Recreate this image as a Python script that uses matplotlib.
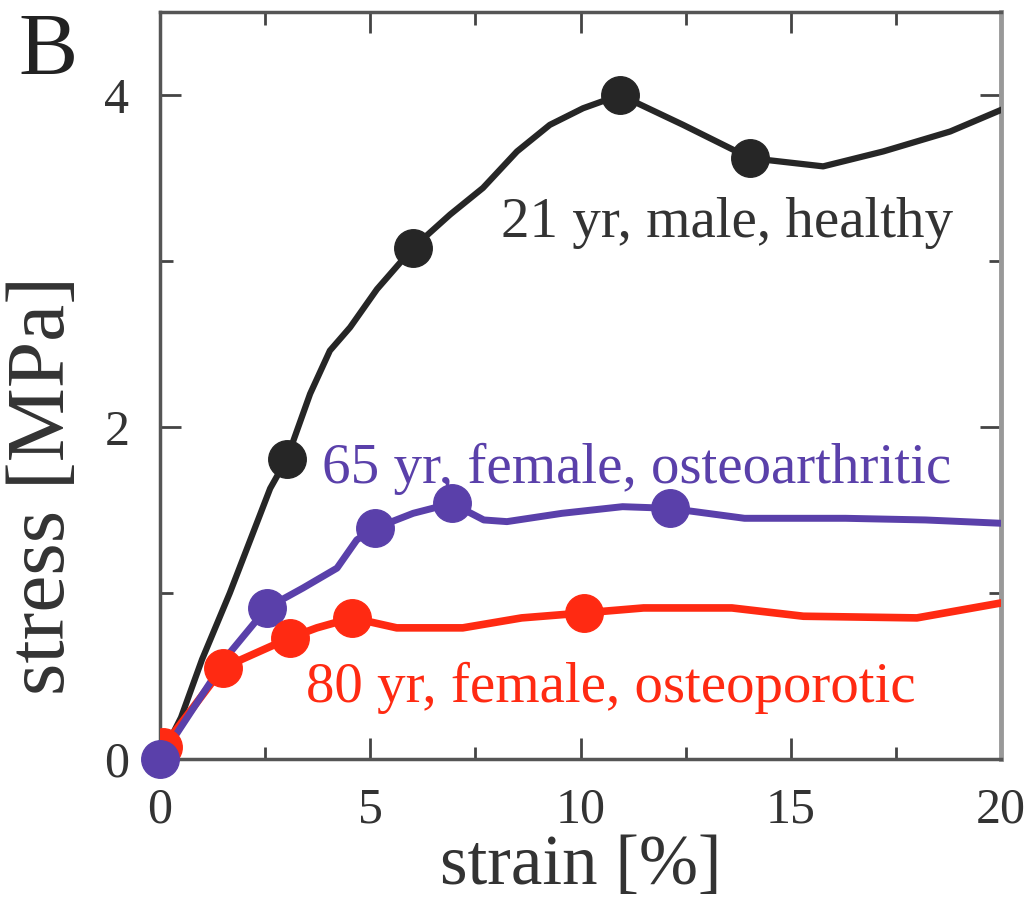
import matplotlib
matplotlib.use('Agg')
import matplotlib.pyplot as plt
from matplotlib.ticker import MultipleLocator

plt.rcParams['font.family'] = ['Liberation Serif', 'DejaVu Serif']

# 21 yr, male, healthy
x_healthy = [0, 0.5, 1.0, 1.66, 2.62, 3.02, 3.57, 4.04, 4.52, 5.16, 6.02,
             6.90, 7.68, 8.49, 9.27, 10.06, 10.94, 12.44, 14.03, 15.77,
             17.2, 18.79, 20.0]
y_healthy = [0, 0.25, 0.6, 1.0, 1.63, 1.81, 2.20, 2.46, 2.60, 2.83, 3.08,
             3.28, 3.44, 3.66, 3.82, 3.92, 4.0, 3.82, 3.62, 3.57,
             3.66, 3.78, 3.91]
mx_healthy = [3.02, 6.02, 10.94, 14.03]
my_healthy = [1.81, 3.08, 4.0, 3.62]

# 65 yr, female, osteoarthritic
x_oa = [0, 1.66, 2.54, 3.40, 4.21, 4.68, 5.11, 6.02, 6.94, 7.7, 8.25,
        9.56, 11.0, 12.13, 13.9, 16.3, 18.2, 20.0]
y_oa = [0, 0.64, 0.91, 1.03, 1.15, 1.32, 1.39, 1.48, 1.54, 1.44, 1.43,
        1.48, 1.52, 1.51, 1.45, 1.45, 1.44, 1.42]
mx_oa = [0, 2.54, 5.11, 6.94, 12.13]
my_oa = [0, 0.91, 1.39, 1.54, 1.51]

# 80 yr, female, osteoporotic
x_op = [0.07, 1.5, 3.09, 3.73, 4.57, 5.63, 7.2, 8.6, 10.08, 11.5, 13.6,
        15.3, 18.0, 20.0]
y_op = [0.07, 0.55, 0.73, 0.79, 0.85, 0.79, 0.79, 0.85, 0.88, 0.91, 0.91,
        0.86, 0.85, 0.94]
mx_op = [0.07, 1.5, 3.09, 4.57, 10.08]
my_op = [0.07, 0.55, 0.73, 0.85, 0.88]

c_black = '#262626'
c_blue = '#5a40aa'
c_red = '#ff2a12'

fig, ax = plt.subplots()
fig.set_size_inches(10.29, 9.01)

ax.plot(x_healthy, y_healthy, '-', color=c_black, lw=4.5, zorder=3)
ax.plot(mx_healthy, my_healthy, 'o', color=c_black, ms=27, zorder=3)
ax.plot(x_op, y_op, '-', color=c_red, lw=5.5, zorder=4)
ax.plot(x_oa, y_oa, '-', color=c_blue, lw=5, zorder=4)
ax.plot(mx_oa, my_oa, 'o', color=c_blue, ms=27, zorder=4)
ax.plot(mx_op, my_op, 'o', color=c_red, ms=27, zorder=5)
# origin marker of the blue curve sits on top
ax.plot(mx_oa[:1], my_oa[:1], 'o', color=c_blue, ms=27, zorder=6,
        clip_on=False)

ax.text(13.48, 3.23, '21 yr, male, healthy', color='#333333', fontsize=41,
        ha='center', va='center')
ax.text(11.33, 1.75, '65 yr, female, osteoarthritic', color=c_blue,
        fontsize=41, ha='center', va='center')
ax.text(10.73, 0.43, '80 yr, female, osteoporotic', color=c_red,
        fontsize=41, ha='center', va='center')

ax.set_xlim(0, 20)
ax.set_ylim(0, 4.5)
ax.xaxis.set_major_locator(MultipleLocator(5))
ax.xaxis.set_minor_locator(MultipleLocator(2.5))
ax.yaxis.set_major_locator(MultipleLocator(2))
ax.yaxis.set_minor_locator(MultipleLocator(1))
ax.tick_params(which='both', direction='in', top=True, right=True,
               width=2, color='#444444', labelsize=36, labelcolor='#333333')
ax.tick_params(which='major', length=15, pad=22)
ax.tick_params(axis='x', which='major', pad=20)
ax.tick_params(which='minor', length=9)
for s in ['left', 'bottom', 'top']:
    ax.spines[s].set_color('#555555')
    ax.spines[s].set_linewidth(2.5)
ax.spines['right'].set_color('#999999')
ax.spines['right'].set_linewidth(3.5)

ax.set_xlabel('strain [%]', fontsize=51, color='#333333')
ax.xaxis.set_label_coords(0.5, -0.1)
ax.set_ylabel('stress [MPa]', fontsize=60, color='#333333')
ax.yaxis.set_label_coords(-0.093, 0.366)
fig.text(0.018, 0.987, 'B', fontsize=64, color='#222222', va='top')

plt.subplots_adjust(left=0.1555, right=0.9728, top=0.9867, bottom=0.1576)
plt.savefig('out.png', dpi=100)
